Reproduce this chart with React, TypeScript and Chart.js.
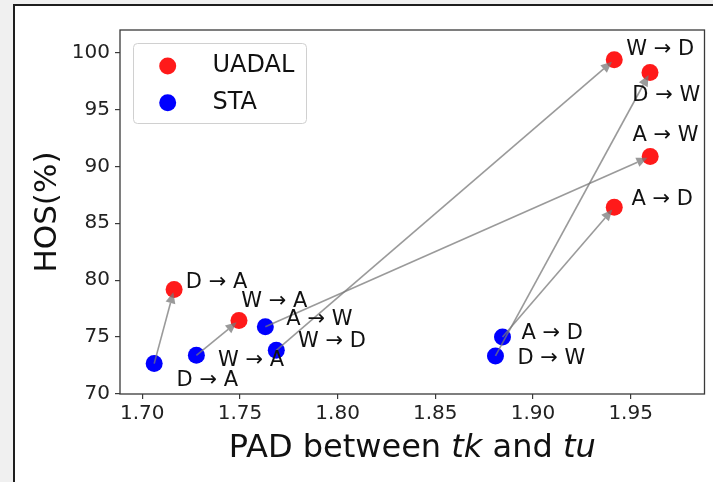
import React, { useEffect, useRef } from "react";
import { Chart, registerables } from "chart.js";

Chart.register(...registerables);

const TASKS = ["W → D", "D → W", "A → W", "A → D", "D → A", "W → A"];
const UADAL_X = [1.9416, 1.9599, 1.96, 1.9416, 1.7163, 1.7495];
const UADAL_Y = [99.36, 98.25, 90.86, 86.4, 79.19, 76.46];
const STA_X = [1.7686, 1.8808, 1.763, 1.8844, 1.7061, 1.7277];
const STA_Y = [73.84, 73.34, 75.9, 75.0, 72.67, 73.4];
const X_TICKS = [1.7, 1.75, 1.8, 1.85, 1.9, 1.95];
const Y_TICKS = [70, 75, 80, 85, 90, 95, 100];
const SERIES_NAMES = ["UADAL", "STA"];

// label offsets in pixels (style only)
const UADAL_LABEL_OFF = [[12, -10.5], [-17.7, 23], [-17.7, -20.6], [17.3, -7.8], [11.7, -6.8], [2.4, -18.5]];
const STA_LABEL_OFF = [[21.7, -8.5], [22, 2.5], [21, -7.3], [19, -3.2], [22.4, 16.5], [21.6, 4.8]];

const RED = "#ff1a1a";
const BLUE = "#0000ff";
const FONT = "'DejaVu Sans', sans-serif";

const decorPlugin = {
  id: "decor",
  beforeDraw(chart: any) {
    const ctx = chart.ctx;
    const W = chart.width, H = chart.height;
    ctx.save();
    ctx.fillStyle = "#f0f0f0";
    ctx.fillRect(0, 0, W, H);
    ctx.fillStyle = "#ffffff";
    ctx.fillRect(15, 6, W - 15, H - 6);
    ctx.fillStyle = "#1e1e1e";
    ctx.fillRect(13, 4, 2, H - 4);
    ctx.fillRect(13, 4, W - 13, 2);
    ctx.restore();
  },
  afterDatasetsDraw(chart: any) {
    const ctx = chart.ctx;
    const xs = chart.scales.x, ys = chart.scales.y;
    const area = chart.chartArea;
    ctx.save();
    // arrows
    for (let i = 0; i < TASKS.length; i++) {
      const x1 = xs.getPixelForValue(STA_X[i]);
      const y1 = ys.getPixelForValue(STA_Y[i]);
      let x2 = xs.getPixelForValue(UADAL_X[i]);
      let y2 = ys.getPixelForValue(UADAL_Y[i]);
      const dx = x2 - x1, dy = y2 - y1;
      const len = Math.hypot(dx, dy);
      const ux = dx / len, uy = dy / len;
      x2 -= ux * 3;
      y2 -= uy * 3;
      const hl = 11, hw = 5;
      const bx = x2 - ux * hl, by = y2 - uy * hl;
      ctx.strokeStyle = "rgba(120,120,120,0.75)";
      ctx.lineWidth = 1.6;
      ctx.beginPath();
      ctx.moveTo(x1, y1);
      ctx.lineTo(bx, by);
      ctx.stroke();
      ctx.fillStyle = "rgba(120,120,120,0.75)";
      ctx.beginPath();
      ctx.moveTo(x2, y2);
      ctx.lineTo(bx - uy * hw, by + ux * hw);
      ctx.lineTo(bx + uy * hw, by - ux * hw);
      ctx.closePath();
      ctx.fill();
    }
    // labels
    ctx.fillStyle = "#111";
    ctx.font = `21px ${FONT}`;
    ctx.textAlign = "left";
    ctx.textBaseline = "middle";
    for (let i = 0; i < TASKS.length; i++) {
      ctx.fillText(TASKS[i], xs.getPixelForValue(UADAL_X[i]) + UADAL_LABEL_OFF[i][0], ys.getPixelForValue(UADAL_Y[i]) + UADAL_LABEL_OFF[i][1]);
      ctx.fillText(TASKS[i], xs.getPixelForValue(STA_X[i]) + STA_LABEL_OFF[i][0], ys.getPixelForValue(STA_Y[i]) + STA_LABEL_OFF[i][1]);
    }
    // spines
    ctx.strokeStyle = "#3a3a3a";
    ctx.lineWidth = 1.3;
    ctx.strokeRect(area.left, area.top, area.right - area.left, area.bottom - area.top);
    // legend
    const lx = 133.5, ly = 43.5, lw = 173, lh = 80, r = 4;
    ctx.beginPath();
    ctx.moveTo(lx + r, ly);
    ctx.lineTo(lx + lw - r, ly);
    ctx.arcTo(lx + lw, ly, lx + lw, ly + r, r);
    ctx.lineTo(lx + lw, ly + lh - r);
    ctx.arcTo(lx + lw, ly + lh, lx + lw - r, ly + lh, r);
    ctx.lineTo(lx + r, ly + lh);
    ctx.arcTo(lx, ly + lh, lx, ly + lh - r, r);
    ctx.lineTo(lx, ly + r);
    ctx.arcTo(lx, ly, lx + r, ly, r);
    ctx.closePath();
    ctx.fillStyle = "rgba(255,255,255,0.85)";
    ctx.fill();
    ctx.strokeStyle = "#d0d0d0";
    ctx.lineWidth = 1;
    ctx.stroke();
    const cols = [RED, BLUE];
    for (let k = 0; k < 2; k++) {
      const cy = 66 + k * 36.7;
      ctx.fillStyle = cols[k];
      ctx.beginPath();
      ctx.arc(167.7, cy, 8.5, 0, Math.PI * 2);
      ctx.fill();
      ctx.fillStyle = "#111";
      ctx.font = `24px ${FONT}`;
      ctx.textAlign = "left";
      ctx.textBaseline = "middle";
      ctx.fillText(SERIES_NAMES[k], 212.5, cy);
    }
    // axis titles
    ctx.fillStyle = "#111";
    ctx.save();
    ctx.translate(48, 212);
    ctx.rotate(-Math.PI / 2);
    ctx.font = `31px ${FONT}`;
    ctx.textAlign = "center";
    ctx.textBaseline = "middle";
    ctx.fillText("HOS(%)", 0, 0);
    ctx.restore();
    const parts: [string, boolean][] = [["PAD between ", false], ["tk", true], [" and ", false], ["tu", true]];
    const fs = 32;
    let total = 0;
    const widths: number[] = [];
    for (const [t, it] of parts) {
      ctx.font = `${it ? "italic " : ""}${fs}px ${FONT}`;
      const w = ctx.measureText(t).width;
      widths.push(w);
      total += w;
    }
    let cx = (area.left + area.right) / 2 - total / 2;
    ctx.textAlign = "left";
    ctx.textBaseline = "middle";
    parts.forEach(([t, it], i) => {
      ctx.font = `${it ? "italic " : ""}${fs}px ${FONT}`;
      ctx.fillText(t, cx, 449);
      cx += widths[i];
    });
    ctx.restore();
  },
};

export default function App() {
  const ref = useRef<HTMLCanvasElement>(null);
  useEffect(() => {
    const canvas = ref.current!;
    const chart = new Chart(canvas, {
      type: "scatter",
      data: {
        datasets: [
          {
            label: SERIES_NAMES[0],
            data: UADAL_X.map((x, i) => ({ x, y: UADAL_Y[i] })),
            backgroundColor: RED,
            borderWidth: 0,
            pointRadius: 8.5,
            pointHoverRadius: 8.5,
          },
          {
            label: SERIES_NAMES[1],
            data: STA_X.map((x, i) => ({ x, y: STA_Y[i] })),
            backgroundColor: BLUE,
            borderWidth: 0,
            pointRadius: 8.5,
            pointHoverRadius: 8.5,
          },
        ],
      },
      options: {
        responsive: false,
        animation: false,
        events: [],
        layout: { padding: { top: 30, right: 5, left: 0, bottom: 0 } },
        plugins: { legend: { display: false }, tooltip: { enabled: false } },
        scales: {
          x: {
            type: "linear",
            min: 1.6886,
            max: 1.9878,
            afterBuildTicks: (s: any) => {
              s.ticks = X_TICKS.map((v) => ({ value: v }));
            },
            afterFit: (s: any) => {
              s.height = 88;
            },
            border: { display: false },
            grid: { display: true, drawOnChartArea: false, drawTicks: true, tickLength: 5, color: "#3a3a3a", lineWidth: 1.2 },
            ticks: {
              padding: 3,
              color: "#222",
              font: { family: FONT, size: 20 },
              maxRotation: 0,
              callback: (v: any) => Number(v).toFixed(2),
            },
          },
          y: {
            type: "linear",
            min: 70,
            max: 101.98,
            afterBuildTicks: (s: any) => {
              s.ticks = Y_TICKS.map((v) => ({ value: v }));
            },
            afterFit: (s: any) => {
              s.width = 120;
            },
            border: { display: false },
            grid: { display: true, drawOnChartArea: false, drawTicks: true, tickLength: 5, color: "#3a3a3a", lineWidth: 1.2 },
            ticks: {
              padding: 5,
              color: "#222",
              font: { family: FONT, size: 20 },
              callback: (v: any) => String(Math.round(Number(v))),
            },
          },
        },
      },
      plugins: [decorPlugin],
    } as any);
    return () => chart.destroy();
  }, []);
  return (
    <div style={{ position: "fixed", left: 0, top: 0, width: 713, height: 482, background: "#f0f0f0" }}>
      <canvas ref={ref} width={713} height={482} style={{ display: "block" }} />
    </div>
  );
}
